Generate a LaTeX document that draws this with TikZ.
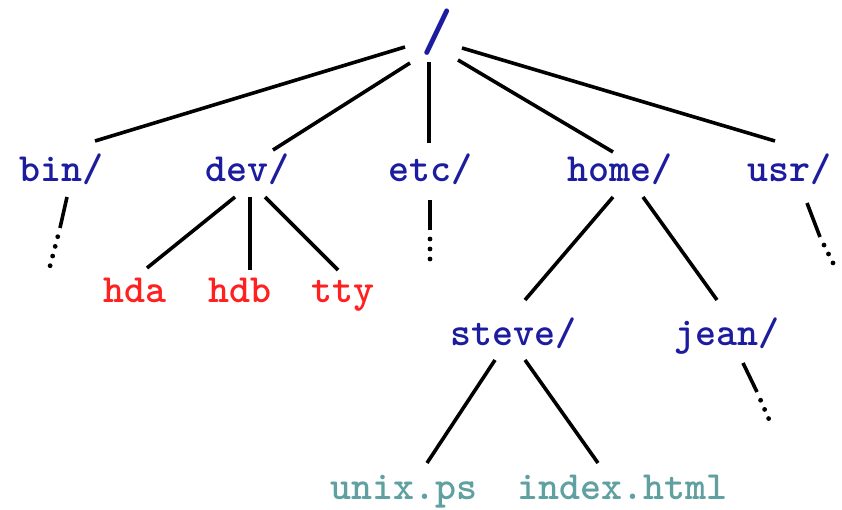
\documentclass[tikz,border=0pt]{standalone}
\usepackage{fontspec}
\definecolor{dirblue}{RGB}{28,28,158}
\definecolor{devred}{RGB}{255,32,32}
\definecolor{fileteal}{RGB}{96,160,160}
\tikzset{
  dir/.style={anchor=base,inner sep=0pt,text=dirblue,font=\ttfamily\bfseries\fontsize{40}{44}\selectfont},
  dev/.style={dir,text=devred},
  file/.style={dir,text=fileteal},
  more/.style={dash pattern=on 0pt off 10pt,line cap=round,line width=4.8pt,shorten <=9pt}
}
\begin{document}
\begin{tikzpicture}[x=1pt,y=-1pt,line width=3.6pt]
        \useasboundingbox (0,0) rectangle (842,510);

        \node[dir,font=\ttfamily\bfseries\fontsize{60}{66}\selectfont] (root) at (437,51) {/};

        \begin{scope}[every node/.style={dir}]
          \node (bin)   at (61,182)  {bin/};
          \node (devd)  at (247,182) {dev/};
          \node (etc)   at (430,182) {etc/};
          \node (home)  at (620,182) {home/};
          \node (usr)   at (789,182) {usr/};
          \node (steve) at (513,345) {steve/};
          \node (jean)  at (727,345) {jean/};
        \end{scope}

        \begin{scope}[every node/.style={dev}]
          \node (hda) at (135,302) {hda};
          \node (hdb) at (240,302) {hdb};
          \node (tty) at (343,302) {tty};
        \end{scope}

        \begin{scope}[every node/.style={file}]
          \node (unix)  at (404,499) {unix.ps};
          \node (index) at (622,499) {index.html};
        \end{scope}

        % ends of the cut-off branches
        \coordinate (binmore) at ([shift={(-1,46)}]bin.base);
        \coordinate (etcmore) at ([shift={(0,48)}]etc.base);
        \coordinate (usrmore) at ([shift={(31,55)}]usr.base);
        \coordinate (jeanmore) at ([shift={(30,47)}]jean.base);

        \draw ([shift={(-32,-4)}]root.base) -- ([shift={(34,-41)}]bin.base);
        \draw ([shift={(-27,12)}]root.base) -- ([shift={(26,-32)}]devd.base);
        \draw ([shift={(-8,11)}]root.base)  -- ([shift={(-1,-39)}]etc.base);
        \draw ([shift={(21,9)}]root.base)   -- ([shift={(-7,-30)}]home.base);
        \draw ([shift={(25,-3)}]root.base)  -- ([shift={(-14,-41)}]usr.base);

        \draw ([shift={(-12,15)}]devd.base) -- ([shift={(12,-34)}]hda.base);
        \draw ([shift={(3,15)}]devd.base)   -- ([shift={(10,-32)}]hdb.base);
        \draw ([shift={(18,15)}]devd.base)  -- ([shift={(-5,-32)}]tty.base);

        \draw ([shift={(-7,15)}]home.base) -- ([shift={(12,-45)}]steve.base);
        \draw ([shift={(23,15)}]home.base) -- ([shift={(-10,-45)}]jean.base);

        \draw ([shift={(-18,15)}]steve.base) -- ([shift={(23,-36)}]unix.base);
        \draw ([shift={(12,15)}]steve.base)  -- ([shift={(-24,-36)}]index.base);

        \draw ([shift={(6,15)}]bin.base)   -- (binmore);
        \draw ([shift={(0,18)}]etc.base)   -- (etcmore);
        \draw ([shift={(18,21)}]usr.base)  -- (usrmore);
        \draw ([shift={(16,18)}]jean.base) -- (jeanmore);
        \draw[more] (binmore)  -- ++(-11,42);
        \draw[more] (etcmore)  -- ++(0,32);
        \draw[more] (usrmore)  -- ++(15,30);
        \draw[more] (jeanmore) -- ++(14,32);

      \end{tikzpicture}
\end{document}
